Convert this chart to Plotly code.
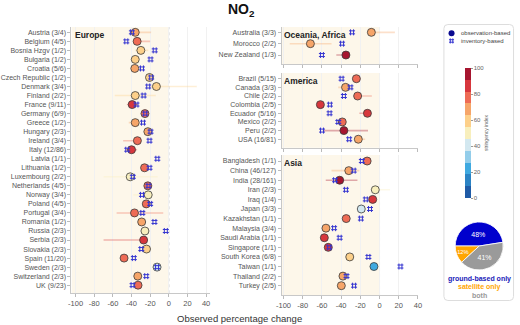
import plotly.graph_objects as go

FONT = "Liberation Sans, Arial, sans-serif"

# ---------------- data ----------------
europe_countries = ["Austria (3/4)", "Belgium (4/5)", "Bosnia Hzgv (1/2)", "Bulgaria (1/2)", "Croatia (5/6)",
                    "Czech Republic (1/2)", "Denmark (3/4)", "Finland (2/2)", "France (9/11)", "Germany (6/9)",
                    "Greece (1/2)", "Hungary (2/3)", "Ireland (3/4)", "Italy (12/86)", "Latvia (1/1)",
                    "Lithuania (1/2)", "Luxembourg (2/2)", "Netherlands (4/5)", "Norway (3/4)", "Poland (4/5)",
                    "Portugal (3/4)", "Romania (1/2)", "Russia (2/3)", "Serbia (2/3)", "Slovakia (2/3)",
                    "Spain (11/20)", "Sweden (2/3)", "Switzerland (2/3)", "UK (9/23)"]
europe_obs = [-36, -34, -30, -36, -36.5, -20.7, -13.3, -36, -39.3, -25.6, -36, -22.5, -33.7, -40, None,
              -26, -41.4, -22.5, -22.1, -24.2, -36.8, -29.1, -25.6, -27, -23.9, -48, -12.6, -33.3, -33]
europe_inv = [-39.6, -45.6, -15.1, -19.6, -28.8, -18.9, -22.1, -27, -34.7, -25.3, -27.7, -19.6, -20.7, -44.6, -12.3,
              -20.7, -38.6, -21.8, -28.8, -20, -28.4, -15.4, -3.2, None, -29.5, -37.5, -12.6, -24.2, -38.9]
europe_str = [68, 78, 59, 58, 68, 58, 57, 58, 86, 80, 68, 68, 78, 88, None,
              78, 50, 80, 50, 78, 78, 68, 52, 87, 59, 80, 40, 68, 78]
europe_lo = [-42, -37, -36, None, -39, None, -20, -58, -45, None, -43, None, -49, -46, None,
             None, -70, -26, -38, None, -56, None, None, -70, None, None, -18, None, None]
europe_hi = [-19, -20, -22, None, -32, None, 30, -14, -33, None, -33, None, -30, -34, None,
             None, -12, -18, -17.5, None, -6, None, None, -27, None, None, -8, None, None]

oceania_countries = ["Australia (3/3)", "Morocco (2/2)", "New Zealand (1/3)"]
oceania_obs = [-8.5, -72, -35]
oceania_inv = [-28.6, -39, -60]
oceania_str = [65, 68, 95]
oceania_lo = [-12, -93.5, -45]
oceania_hi = [16, -50, -35]

america_countries = ["Brazil (5/15)", "Canada (3/3)", "Chile (2/2)", "Colombia (2/5)", "Ecuador (5/16)",
                     "Mexico (2/2)", "Peru (2/2)", "USA (16/81)"]
america_obs = [-24.1, -35.4, -22.8, -61.6, -12.6, -38.8, -37.1, -22.1]
america_inv = [-39.5, -30.3, -37.1, -51.7, -52, -42.9, -59.9, -31.6]
america_str = [78, 68, 78, 87, 87, 78, 95, 68]
america_lo = [-28, -43, -25, None, -21, None, -59, -26]
america_hi = [-20, -28, -8, None, -12, None, -12, -15]

asia_countries = ["Bangladesh (1/1)", "China (46/127)", "India (28/161)", "Iran (2/3)", "Iraq (1/4)",
                  "Japan (3/3)", "Kazakhstan (1/1)", "Malaysia (3/4)", "Saudi Arabia (1/1)", "Singapore (1/1)",
                  "South Korea (6/8)", "Taiwan (1/1)", "Thailand (2/2)", "Turkey (2/5)"]
asia_obs = [-12.9, -32, -41.5, -4.4, -7.1, -19, -34.7, -55.8, -57.5, -53.4, -31, -5.8, -38.1, -39.8]
asia_inv = [-18.4, -26.9, -46.3, -35, -14.3, -9.9, -19.4, -47.3, -41.5, -52.4, -11.6, 21.8, -34.4, -26.5]
asia_str = [78, 68, 95, 50, 87, 40, 78, 68, 87, 87, 59, 22, 68, 68]
asia_lo = [-15, -50, -56, -6, None, None, None, None, None, None, None, None, None, None]
asia_hi = [-11, -21, -23, 11, None, None, None, None, None, None, None, None, None, None]

x_ticks = [-100, -80, -60, -40, -20, 0, 20, 40]
x_ticktext = ["-100", "-80", "-60", "-40", "-20", "0", "20", "40"]
cbar_ticks = [0, 20, 40, 60, 80, 100]

pie_labels = ["ground-based only", "satellite only", "both"]
pie_values = [48, 12, 41]
pie_colors = ["#0000cd", "#ffa500", "#9a9a9a"]

# ---------------- styling ----------------
STR_COLORS = ["#1f5ba6", "#2b83c4", "#3fa9e0", "#93cdea", "#d3e8f0", "#f8efbd",
              "#fdd08a", "#f6a569", "#ee6b55", "#d7373d", "#a6152f"]
nb = len(STR_COLORS)
colorscale = []
for i, c in enumerate(STR_COLORS):
    colorscale.append([i / nb, c])
    colorscale.append([(i + 1) / nb, c])


def rgba(hexc, a):
    h = hexc.lstrip("#")
    return "rgba(%d,%d,%d,%.2f)" % (int(h[0:2], 16), int(h[2:4], 16), int(h[4:6], 16), a)


def bin_color(v):
    return STR_COLORS[min(int(v / 100 * nb), nb - 1)]


W, H = 520, 325
def px(xp):
    return xp / W
def py(yp):
    return 1 - yp / H

panels = [
    dict(ax="", cats=europe_countries, obs=europe_obs, inv=europe_inv, s=europe_str, lo=europe_lo, hi=europe_hi,
         xr=[-104.5, 44], xd=[px(66.7), px(207.8)], yd=[py(293.3), py(27)], yr=[28.9, -0.59],
         title="Europe", labels=True, tx=0.01),
    dict(ax="2", cats=oceania_countries, obs=oceania_obs, inv=oceania_inv, s=oceania_str, lo=oceania_lo, hi=oceania_hi,
         xr=[-102, 40], xd=[px(281), px(420)], yd=[py(64), py(27)], yr=[2.79, -0.47],
         title="Oceania, Africa", labels=False, tx=0.0),
    dict(ax="3", cats=america_countries, obs=america_obs, inv=america_inv, s=america_str, lo=america_lo, hi=america_hi,
         xr=[-102, 40], xd=[px(281), px(420)], yd=[py(147.7), py(73)], yr=[7.98, -0.66],
         title="America", labels=False, tx=0.0),
    dict(ax="4", cats=asia_countries, obs=asia_obs, inv=asia_inv, s=asia_str, lo=asia_lo, hi=asia_hi,
         xr=[-102, 40], xd=[px(281), px(420)], yd=[py(295), py(155)], yr=[13.97, -0.63],
         title="Asia", labels=True, tx=0.0),
]

fig = go.Figure()
shapes = []
annotations = []
layout_axes = {}

for p in panels:
    a = p["ax"]
    xa, ya = "x" + a, "y" + a
    # error bars
    for c, lo, hi, s in zip(p["cats"], p["lo"], p["hi"], p["s"]):
        if lo is None or s is None:
            continue
        fig.add_trace(go.Scatter(x=[lo, hi], y=[c, c], mode="lines", xaxis=xa, yaxis=ya,
                                 line=dict(color=rgba(bin_color(s), 0.35), width=1.6),
                                 showlegend=False, hoverinfo="skip"))
    # observation circles
    fig.add_trace(go.Scatter(x=p["obs"], y=p["cats"], mode="markers", xaxis=xa, yaxis=ya,
                             marker=dict(symbol="circle", size=8, color=[v if v is not None else 0 for v in p["s"]],
                                         coloraxis="coloraxis", line=dict(color="#3a3a3a", width=0.8)),
                             showlegend=False))
    # inventory squares
    fig.add_trace(go.Scatter(x=p["inv"], y=p["cats"], mode="markers", xaxis=xa, yaxis=ya,
                             marker=dict(symbol="hash-open", size=6, color="#3535d0", line=dict(width=1, color="#3535d0")),
                             showlegend=False))

    xkey = "xaxis" + a
    ykey = "yaxis" + a
    layout_axes[xkey] = dict(domain=p["xd"], range=p["xr"], anchor=ya, tickvals=x_ticks, ticktext=x_ticktext,
                             showticklabels=p["labels"], ticks="outside", ticklen=3, tickcolor="#bbbbbb",
                             showline=True, linecolor="#c8c8c8", linewidth=1, zeroline=False,
                             showgrid=True, gridcolor="#f1f1f1", gridwidth=1,
                             tickfont=dict(size=7.5, color="#555555", family=FONT), fixedrange=True)
    layout_axes[ykey] = dict(domain=p["yd"], range=p["yr"], anchor=xa, type="category",
                             categoryorder="array", categoryarray=p["cats"],
                             ticks="outside", ticklen=3, tickcolor="#bbbbbb",
                             showline=True, linecolor="#c8c8c8", linewidth=1, showgrid=False, zeroline=False,
                             tickfont=dict(size=7, color="#555555", family=FONT), fixedrange=True)
    # beige shading left of zero
    shapes.append(dict(type="rect", xref=xa, yref=ya + " domain", x0=p["xr"][0], x1=0, y0=0, y1=1,
                       fillcolor="#fdf7ea", line=dict(width=0), layer="below"))
    # dotted zero line
    shapes.append(dict(type="line", xref=xa, yref=ya + " domain", x0=0, x1=0, y0=0, y1=1,
                       line=dict(color="#b5b5b5", width=1, dash="dot"), layer="below"))
    annotations.append(dict(text="<b>%s</b>" % p["title"], xref=xa + " domain", yref=ya + " domain",
                            x=p["tx"], y=1.0, xanchor="left", yanchor="top", showarrow=False,
                            yshift=-1, font=dict(size=8.5, color="#222222", family=FONT)))

# legend helper markers
layout_axes["xaxis5"] = dict(domain=[px(446), px(518)], range=[0, 1], visible=False, anchor="y5", fixedrange=True)
layout_axes["yaxis5"] = dict(domain=[py(300), py(25)], range=[0, 1], visible=False, anchor="x5", fixedrange=True)
fig.add_trace(go.Scatter(x=[0.115], y=[0.970], mode="markers", xaxis="x5", yaxis="y5",
                         marker=dict(symbol="circle", size=6, color="#0a0a90"), showlegend=False, hoverinfo="skip"))
fig.add_trace(go.Scatter(x=[0.115], y=[0.942], mode="markers", xaxis="x5", yaxis="y5",
                         marker=dict(symbol="hash-open", size=5, color="#3535d0", line=dict(width=1, color="#3535d0")),
                         showlegend=False, hoverinfo="skip"))
annotations.append(dict(text="observation-based", xref="paper", yref="paper", x=px(461.5), y=py(33.3),
                        xanchor="left", yanchor="middle", showarrow=False,
                        font=dict(size=6, color="#444444", family=FONT)))
annotations.append(dict(text="inventory-based", xref="paper", yref="paper", x=px(461.5), y=py(41),
                        xanchor="left", yanchor="middle", showarrow=False,
                        font=dict(size=6, color="#444444", family=FONT)))

# pie
fig.add_trace(go.Pie(labels=pie_labels, values=pie_values, marker=dict(colors=pie_colors, line=dict(color="white", width=0.8)),
                     domain=dict(x=[px(458), px(507)], y=[py(270), py(222)]), sort=False,
                     direction="counterclockwise", rotation=-90, texttemplate="%{value}%",
                     textposition="inside", insidetextorientation="horizontal",
                     textfont=dict(size=7, color="white", family=FONT), showlegend=False, hoverinfo="skip"))

for txt, col, yy in zip(pie_labels, ["#2020b8", "#ffa500", "#999999"], [278.5, 287, 295.5]):
    annotations.append(dict(text="<b>%s</b>" % txt, xref="paper", yref="paper", x=px(483), y=py(yy),
                            xanchor="center", yanchor="middle", showarrow=False,
                            font=dict(size=7, color=col, family=FONT)))

# title and x-axis title
annotations.append(dict(text="<b>NO<sub>2</sub></b>", xref="paper", yref="paper", x=px(240), y=py(10),
                        xanchor="center", yanchor="middle", showarrow=False,
                        font=dict(size=14, color="#111111", family=FONT)))
annotations.append(dict(text="Observed percentage change", xref="paper", yref="paper", x=px(238), y=py(318),
                        xanchor="center", yanchor="middle", showarrow=False,
                        font=dict(size=9.5, color="#333333", family=FONT)))

# legend box (rounded)
x0, x1, y0, y1 = px(446.5), px(517.5), py(300.5), py(24.5)
rx, ry = 4 / W, 4 / H
path = ("M %f,%f L %f,%f Q %f,%f %f,%f L %f,%f Q %f,%f %f,%f L %f,%f Q %f,%f %f,%f L %f,%f Q %f,%f %f,%f Z" %
        (x0 + rx, y1, x1 - rx, y1, x1, y1, x1, y1 - ry, x1, y0 + ry, x1, y0, x1 - rx, y0,
         x0 + rx, y0, x0, y0, x0, y0 + ry, x0, y1 - ry, x0, y1, x0 + rx, y1))
shapes.append(dict(type="path", xref="paper", yref="paper", path=path, line=dict(color="#dddddd", width=1)))

fig.update_layout(
    width=W, height=H, margin=dict(l=0, r=0, t=0, b=0),
    paper_bgcolor="white", plot_bgcolor="white",
    font=dict(family=FONT),
    showlegend=False,
    hovermode=False,
    shapes=shapes, annotations=annotations,
    coloraxis=dict(colorscale=colorscale, cmin=0, cmax=100,
                   colorbar=dict(x=px(468), xanchor="left", y=py(133), yanchor="middle",
                                 len=130 / H, lenmode="fraction", thickness=6, thicknessmode="pixels",
                                 xpad=0, ypad=0, outlinewidth=0, tickvals=cbar_ticks,
                                 ticks="outside", ticklen=2, tickcolor="#999999",
                                 tickfont=dict(size=6, color="#666666", family=FONT),
                                 title=dict(text="stringency index", side="right",
                                            font=dict(size=5, color="#666666", family=FONT)))),
    **layout_axes,
)

fig.write_html("out.html", config={"displayModeBar": False, "staticPlot": True},
               post_script="document.body.style.margin='0';document.body.style.padding='0';")
